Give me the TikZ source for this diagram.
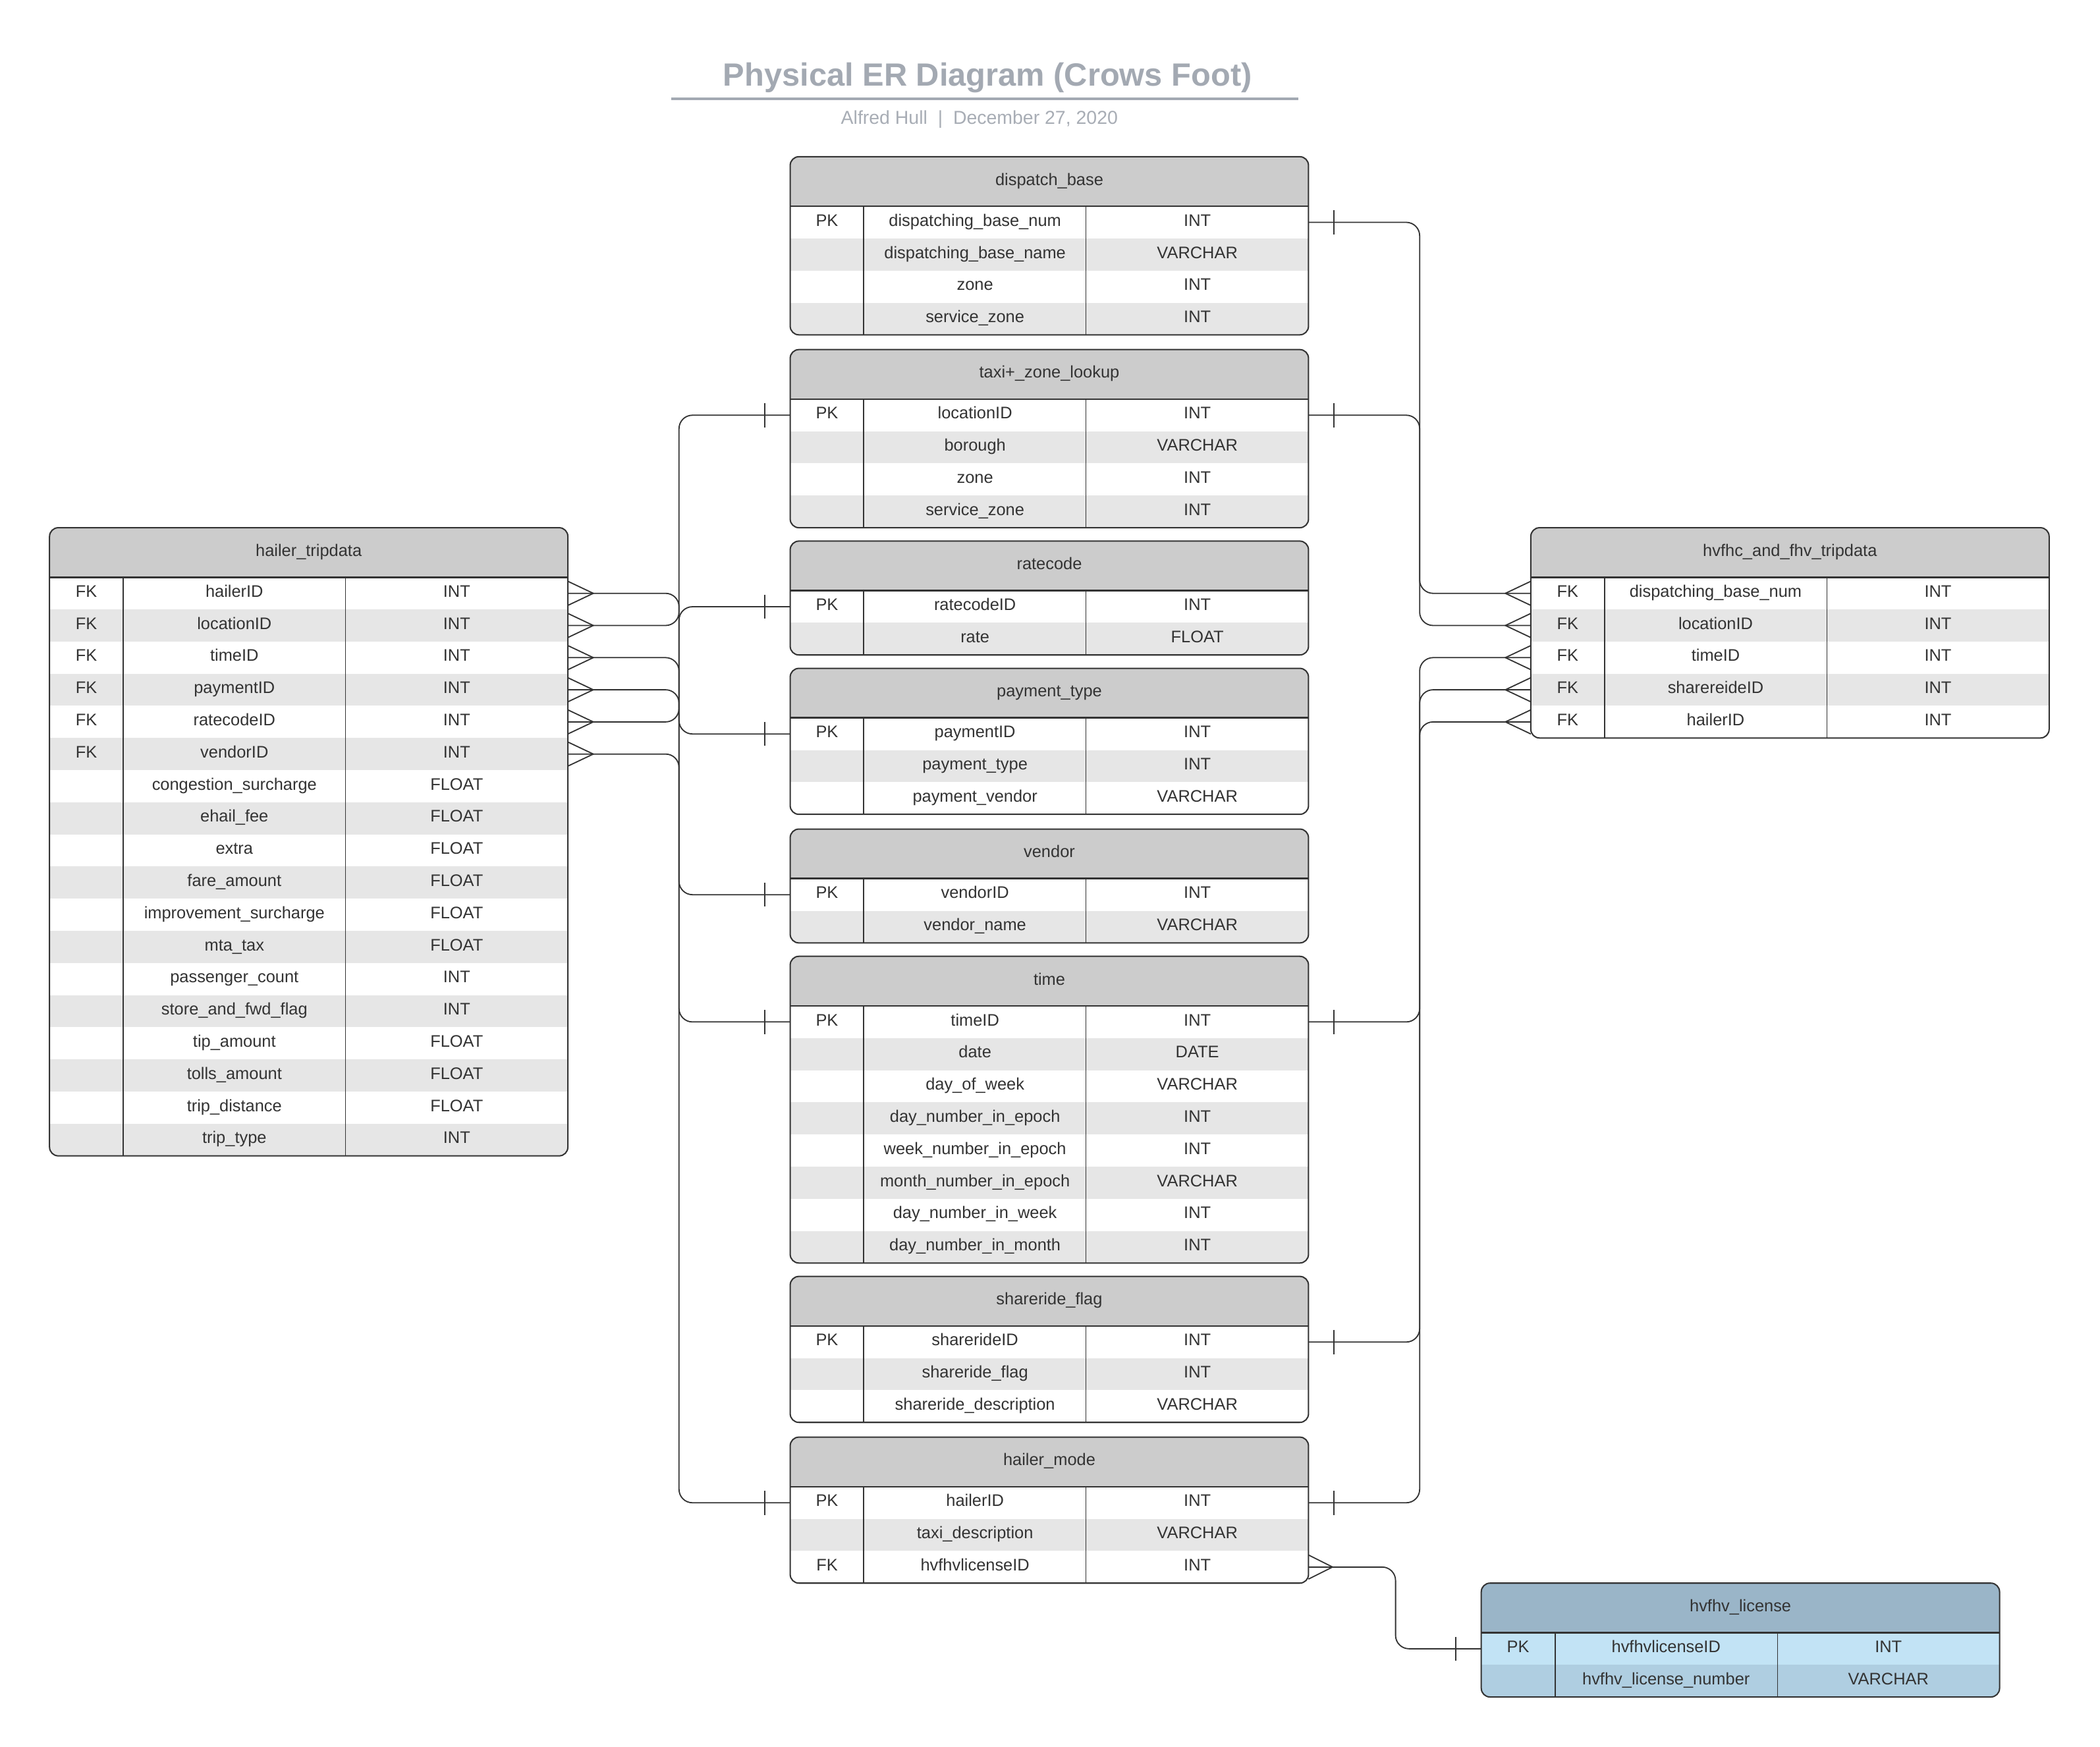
\documentclass[tikz,border=0pt]{standalone}
\usepackage{fontspec}
\setmainfont{Liberation Sans}
\definecolor{ln}{HTML}{333333}
\definecolor{txt}{HTML}{333333}
\definecolor{hdrgray}{HTML}{CCCCCC}
\definecolor{rowgray}{HTML}{E6E6E6}
\definecolor{titlecol}{HTML}{A3A9B2}
\definecolor{subcol}{HTML}{A8ADB5}
\definecolor{lichdr}{HTML}{9AB5C8}
\definecolor{licodd}{HTML}{C2E3F5}
\definecolor{liceven}{HTML}{AFCEE1}
\tikzset{
  cell/.style={font=\fontsize{12.5}{15}\selectfont, text=txt, inner sep=0pt, anchor=base},
  conn/.style={draw=ln, line width=0.9pt, rounded corners=10pt},
  crow/.style={draw=ln, line width=0.9pt},
  onebar/.style={draw=ln, line width=0.8pt},
}
% #1 id, #2 x, #3 top y, #4 nrows, #5 title, #6 rows, #7 header fill, #8 odd fill, #9 even fill
\newcommand{\ertable}[9]{%
  \pgfmathsetmacro{\erB}{#3+37+24*#4}%
  \begin{scope}
    \clip[rounded corners=6.5pt] (#2,#3) rectangle (#2+387,\erB);
    \fill[#7] (#2,#3) rectangle (#2+387,#3+37);
    \foreach \k/\n/\t [count=\i] in {#6} {%
      \pgfmathsetmacro{\ry}{#3+37+24*(\i-1)}%
      \ifodd\i \def\rf{#8}\else\def\rf{#9}\fi
      \fill[fill=\rf] (#2,\ry) rectangle (#2+387,\ry+24);
    }
  \end{scope}
  \node[cell] (#1-h) at (#2+193.5,#3+21.3) {#5};
  \foreach \k/\n/\t [count=\i] in {#6} {%
    \pgfmathsetmacro{\ry}{#3+37+24*(\i-1)}%
    \node[cell] (#1-\i-k) at (#2+27.5,\ry+14.8) {\k};
    \node[cell] (#1-\i-n) at (#2+138,\ry+14.8) {\n};
    \node[cell] (#1-\i-t) at (#2+304,\ry+14.8) {\t};
    \coordinate (#1-\i-w) at (#2,\ry+12);
    \coordinate (#1-\i-e) at (#2+387,\ry+12);
  }
  \draw[ln, line width=0.5pt] (#2+221,#3+37) -- (#2+221,\erB);
  \draw[ln, line width=1pt] (#2+55,#3+37) -- (#2+55,\erB);
  \draw[ln, line width=1.3pt] (#2,#3+37) -- (#2+387,#3+37);
  \draw[ln, line width=1pt, rounded corners=6.5pt] (#2,#3) rectangle (#2+387,\erB);
}
\begin{document}
\begin{tikzpicture}[x=1pt,y=-1pt]
\useasboundingbox[fill=white] (0,0) rectangle (1568,1304);

% title
\node[font=\fontsize{24}{28}\selectfont\bfseries, text=titlecol, inner sep=0pt, anchor=base] (title) at (737.4,64.4) {Physical ER Diagram (Crows Foot)};
\draw[titlecol, line width=1.6pt] (501.3,73.8) -- (969.6,73.8);
\node[font=\fontsize{14}{16}\selectfont, text=subcol, inner sep=0pt, anchor=base] (subtitle) at (731.3,92.6) {Alfred Hull\ \ |\ \ December 27, 2020};

% tables
\ertable{db}{590}{117}{4}{dispatch\_base}{%
PK/dispatching\_base\_num/INT,%
/dispatching\_base\_name/VARCHAR,%
/zone/INT,%
/service\_zone/INT}{hdrgray}{white}{rowgray}

\ertable{tz}{590}{261}{4}{taxi+\_zone\_lookup}{%
PK/locationID/INT,%
/borough/VARCHAR,%
/zone/INT,%
/service\_zone/INT}{hdrgray}{white}{rowgray}

\ertable{rc}{590}{404}{2}{ratecode}{%
PK/ratecodeID/INT,%
/rate/FLOAT}{hdrgray}{white}{rowgray}

\ertable{pt}{590}{499}{3}{payment\_type}{%
PK/paymentID/INT,%
/payment\_type/INT,%
/payment\_vendor/VARCHAR}{hdrgray}{white}{rowgray}

\ertable{vd}{590}{619}{2}{vendor}{%
PK/vendorID/INT,%
/vendor\_name/VARCHAR}{hdrgray}{white}{rowgray}

\ertable{tm}{590}{714}{8}{time}{%
PK/timeID/INT,%
/date/DATE,%
/day\_of\_week/VARCHAR,%
/day\_number\_in\_epoch/INT,%
/week\_number\_in\_epoch/INT,%
/month\_number\_in\_epoch/VARCHAR,%
/day\_number\_in\_week/INT,%
/day\_number\_in\_month/INT}{hdrgray}{white}{rowgray}

\ertable{sf}{590}{953}{3}{shareride\_flag}{%
PK/sharerideID/INT,%
/shareride\_flag/INT,%
/shareride\_description/VARCHAR}{hdrgray}{white}{rowgray}

\ertable{hm}{590}{1073}{3}{hailer\_mode}{%
PK/hailerID/INT,%
/taxi\_description/VARCHAR,%
FK/hvfhvlicenseID/INT}{hdrgray}{white}{rowgray}

\ertable{ht}{37}{394}{18}{hailer\_tripdata}{%
FK/hailerID/INT,%
FK/locationID/INT,%
FK/timeID/INT,%
FK/paymentID/INT,%
FK/ratecodeID/INT,%
FK/vendorID/INT,%
/congestion\_surcharge/FLOAT,%
/ehail\_fee/FLOAT,%
/extra/FLOAT,%
/fare\_amount/FLOAT,%
/improvement\_surcharge/FLOAT,%
/mta\_tax/FLOAT,%
/passenger\_count/INT,%
/store\_and\_fwd\_flag/INT,%
/tip\_amount/FLOAT,%
/tolls\_amount/FLOAT,%
/trip\_distance/FLOAT,%
/trip\_type/INT}{hdrgray}{white}{rowgray}

\ertable{hv}{1143}{394}{5}{hvfhc\_and\_fhv\_tripdata}{%
FK/dispatching\_base\_num/INT,%
FK/locationID/INT,%
FK/timeID/INT,%
FK/sharereideID/INT,%
FK/hailerID/INT}{hdrgray}{white}{rowgray}

\ertable{lic}{1106}{1182}{2}{hvfhv\_license}{%
PK/hvfhvlicenseID/INT,%
/hvfhv\_license\_number/VARCHAR}{lichdr}{licodd}{liceven}

% buses
\coordinate (busL) at (507,0);
\coordinate (busR) at (1060,0);
\coordinate (busH) at (1042,0);

% left connectors: hailer_tripdata -> lookup tables
\draw[conn] (ht-1-e) -| (busL |- hm-1-w) -- (hm-1-w);
\draw[conn] (ht-2-e) -| (busL |- tz-1-w) -- (tz-1-w);
\draw[conn] (ht-3-e) -| (busL |- tm-1-w) -- (tm-1-w);
\draw[conn] (ht-4-e) -| (busL |- pt-1-w) -- (pt-1-w);
\draw[conn] (ht-5-e) -| (busL |- rc-1-w) -- (rc-1-w);
\draw[conn] (ht-6-e) -| (busL |- vd-1-w) -- (vd-1-w);
\foreach \r in {1,...,6} {
  \draw[crow] (ht-\r-e) ++(0,-9) -- ++(19,9) -- ++(-19,9);
}
\foreach \t in {hm,tz,tm,pt,rc,vd} {
  \draw[onebar] (\t-1-w) ++(-19,-9) -- ++(0,18);
}

% right connectors: hvfhc_and_fhv_tripdata -> lookup tables
\draw[conn] (hv-1-w) -| (busR |- db-1-e) -- (db-1-e);
\draw[conn] (hv-2-w) -| (busR |- tz-1-e) -- (tz-1-e);
\draw[conn] (hv-3-w) -| (busR |- tm-1-e) -- (tm-1-e);
\draw[conn] (hv-4-w) -| (busR |- sf-1-e) -- (sf-1-e);
\draw[conn] (hv-5-w) -| (busR |- hm-1-e) -- (hm-1-e);
\foreach \r in {1,...,5} {
  \draw[crow] (hv-\r-w) ++(0,-9) -- ++(-19,9) -- ++(19,9);
}
\foreach \t in {db,tz,tm,sf,hm} {
  \draw[onebar] (\t-1-e) ++(19,-9) -- ++(0,18);
}

% hailer_mode -> hvfhv_license
\draw[conn] (hm-3-e) -| (busH |- lic-1-w) -- (lic-1-w);
\draw[crow] (hm-3-e) ++(0,-9) -- ++(18,9) -- ++(-18,9);
\draw[onebar] (lic-1-w) ++(-19,-9) -- ++(0,18);
\end{tikzpicture}
\end{document}
